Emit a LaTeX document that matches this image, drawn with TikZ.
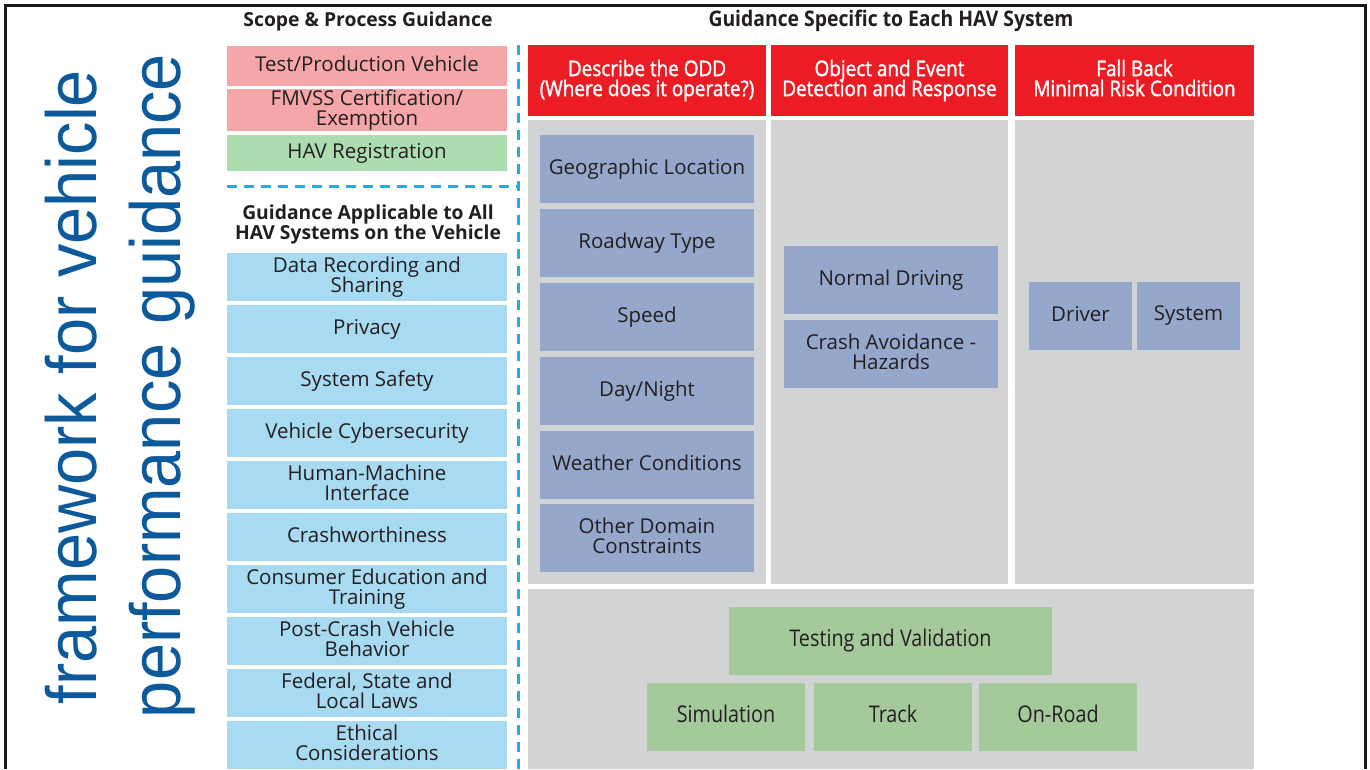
\documentclass[tikz,border=0pt]{standalone}
\usepackage{fontspec}
\setmainfont{Open Sans}
\newfontfamily\condfont[FakeStretch=0.86]{Open Sans}
\newfontfamily\headfont[FakeStretch=0.88,FakeBold=1.6]{Open Sans}
\newfontfamily\hdrcfont[FakeStretch=0.9]{Open Sans}
\newfontfamily\vfont[FakeStretch=0.94]{Liberation Sans}
\definecolor{pinkc}{RGB}{244,166,168}
\definecolor{regc}{RGB}{173,220,176}
\definecolor{lblue}{RGB}{168,218,242}
\definecolor{redc}{RGB}{236,28,36}
\definecolor{panelc}{RGB}{209,211,213}
\definecolor{bgrey}{RGB}{150,167,204}
\definecolor{tgreen}{RGB}{164,201,155}
\definecolor{dashc}{RGB}{39,170,225}
\definecolor{vblue}{RGB}{12,90,155}
\definecolor{txt}{RGB}{35,31,32}
\newcommand\bx[7]{\node[#1, minimum width={#5-#3}, minimum height={#6-#4}] (#2) at ({(#3+#5)/2},{(#4+#6)/2}) {\vphantom{Ag}#7\vphantom{Ag}};}
\newcommand\tightlines{\lineskiplimit=-60pt\lineskip=0pt}
\tikzset{
  base box/.style={rectangle, draw=none, inner sep=1pt, outer sep=0pt, align=center, text=txt,
    font=\fontsize{20.5}{20}\selectfont\tightlines},
  pinkb/.style={base box, fill=pinkc},
  greenb/.style={base box, fill=regc},
  blueb/.style={base box, fill=lblue},
  redh/.style={base box, fill=redc, text=white, font=\headfont\fontsize{21.5}{20}\selectfont\tightlines},
  panel/.style={base box, fill=panelc},
  greyb/.style={base box, fill=bgrey},
  testb/.style={base box, fill=tgreen, font=\condfont\fontsize{23}{22}\selectfont\tightlines},
  hdr/.style={align=center, text=txt, inner sep=0pt, font=\bfseries\fontsize{19.3}{20}\selectfont\tightlines},
  hdrc/.style={align=center, text=txt, inner sep=0pt, font=\hdrcfont\bfseries\fontsize{21.5}{20}\selectfont},
  vtext/.style={rotate=90, anchor=base, inner sep=0pt, text=vblue, font=\vfont\fontsize{71}{71}\selectfont},
  sep/.style={draw=dashc, line width=3pt, dash pattern=on 10pt off 7pt},
  frame/.style={draw=black!90, line width=3pt}
}
\begin{document}
\begin{tikzpicture}[x=1pt,y=-1pt]
\useasboundingbox (0,0) rectangle (1370,769);
\fill[white] (0,0) rectangle (1370,769);
% frame
\coordinate (fa) at (5,769);
\coordinate (fb) at (5,5);
\coordinate (fc) at (1365.5,5);
\coordinate (fd) at (1365.5,769);
\draw[frame] (fa) -- (fb) -- (fc) -- (fd);
% vertical title
\node[vtext] (v1) at (96,387) {framework for vehicle};
\node[vtext] (v2) at (180,386) {performance guidance};
% headers
\node[hdr] (h1) at (368,21) {Scope \& Process Guidance};
\node[hdrc] (h2) at (891,21) {Guidance Specific to Each HAV System};
% left column
\bx{pinkb}{tpv}{227}{46}{507}{86}{Test/Production Vehicle}
\bx{pinkb}{fmvss}{227}{89}{507}{131}{FMVSS Certification/\\Exemption}
\bx{greenb}{hav}{227}{135}{507}{171}{HAV Registration}
\coordinate (hs1) at (227,186);
\coordinate (hs2) at (517,186);
\draw[sep] (hs1) -- (hs2);
\node[hdr] (gall) at (368,224) {Guidance Applicable to All\\HAV Systems on the Vehicle};
\bx{blueb}{b1}{227}{253}{507}{301}{Data Recording and\\Sharing}
\bx{blueb}{b2}{227}{305}{507}{353}{Privacy}
\bx{blueb}{b3}{227}{357}{507}{405}{System Safety}
\bx{blueb}{b4}{227}{409}{507}{457}{Vehicle Cybersecurity}
\bx{blueb}{b5}{227}{461}{507}{509}{Human-Machine\\Interface}
\bx{blueb}{b6}{227}{513}{507}{561}{Crashworthiness}
\bx{blueb}{b7}{227}{565}{507}{613}{Consumer Education and\\Training}
\bx{blueb}{b8}{227}{617}{507}{665}{Post-Crash Vehicle\\Behavior}
\bx{blueb}{b9}{227}{669}{507}{717}{Federal, State and\\Local Laws}
\bx{blueb}{b10}{227}{721}{507}{769}{Ethical\\Considerations}
% vertical separator
\coordinate (vs1) at (518,45);
\coordinate (vs2) at (518,769);
\draw[sep] (vs1) -- (vs2);
% red headers
\bx{redh}{odd}{528}{45}{766}{116}{Describe the ODD\\(Where does it operate?)}
\bx{redh}{oedr}{771}{45}{1008}{116}{Object and Event\\Detection and Response}
\bx{redh}{fbk}{1015}{45}{1254}{116}{Fall Back\\Minimal Risk Condition}
% panels
\bx{panel}{p1}{528}{120}{766}{584}{}
\bx{panel}{p2}{771}{120}{1008}{584}{}
\bx{panel}{p3}{1015}{120}{1254}{584}{}
\bx{panel}{p4}{528}{589}{1254}{769}{}
% ODD boxes
\bx{greyb}{g1}{540}{135}{754}{203}{Geographic Location}
\bx{greyb}{g2}{540}{209}{754}{277}{Roadway Type}
\bx{greyb}{g3}{540}{283}{754}{351}{Speed}
\bx{greyb}{g4}{540}{357}{754}{425}{Day/Night}
\bx{greyb}{g5}{540}{431}{754}{499}{Weather Conditions}
\bx{greyb}{g6}{540}{504}{754}{572}{Other Domain\\Constraints}
% OEDR boxes
\bx{greyb}{nd}{784}{246}{998}{314}{Normal Driving}
\bx{greyb}{ca}{784}{320}{998}{388}{Crash Avoidance -\\Hazards}
% fallback boxes
\bx{greyb}{drv}{1029}{282}{1132}{350}{Driver}
\bx{greyb}{sys}{1137}{282}{1240}{350}{System}
% testing
\bx{testb}{tv}{729}{607}{1052}{675}{Testing and Validation}
\bx{testb}{sim}{647}{683}{805}{751}{Simulation}
\bx{testb}{trk}{814}{683}{972}{751}{Track}
\bx{testb}{onr}{979}{683}{1137}{751}{On-Road}
\end{tikzpicture}
\end{document}
